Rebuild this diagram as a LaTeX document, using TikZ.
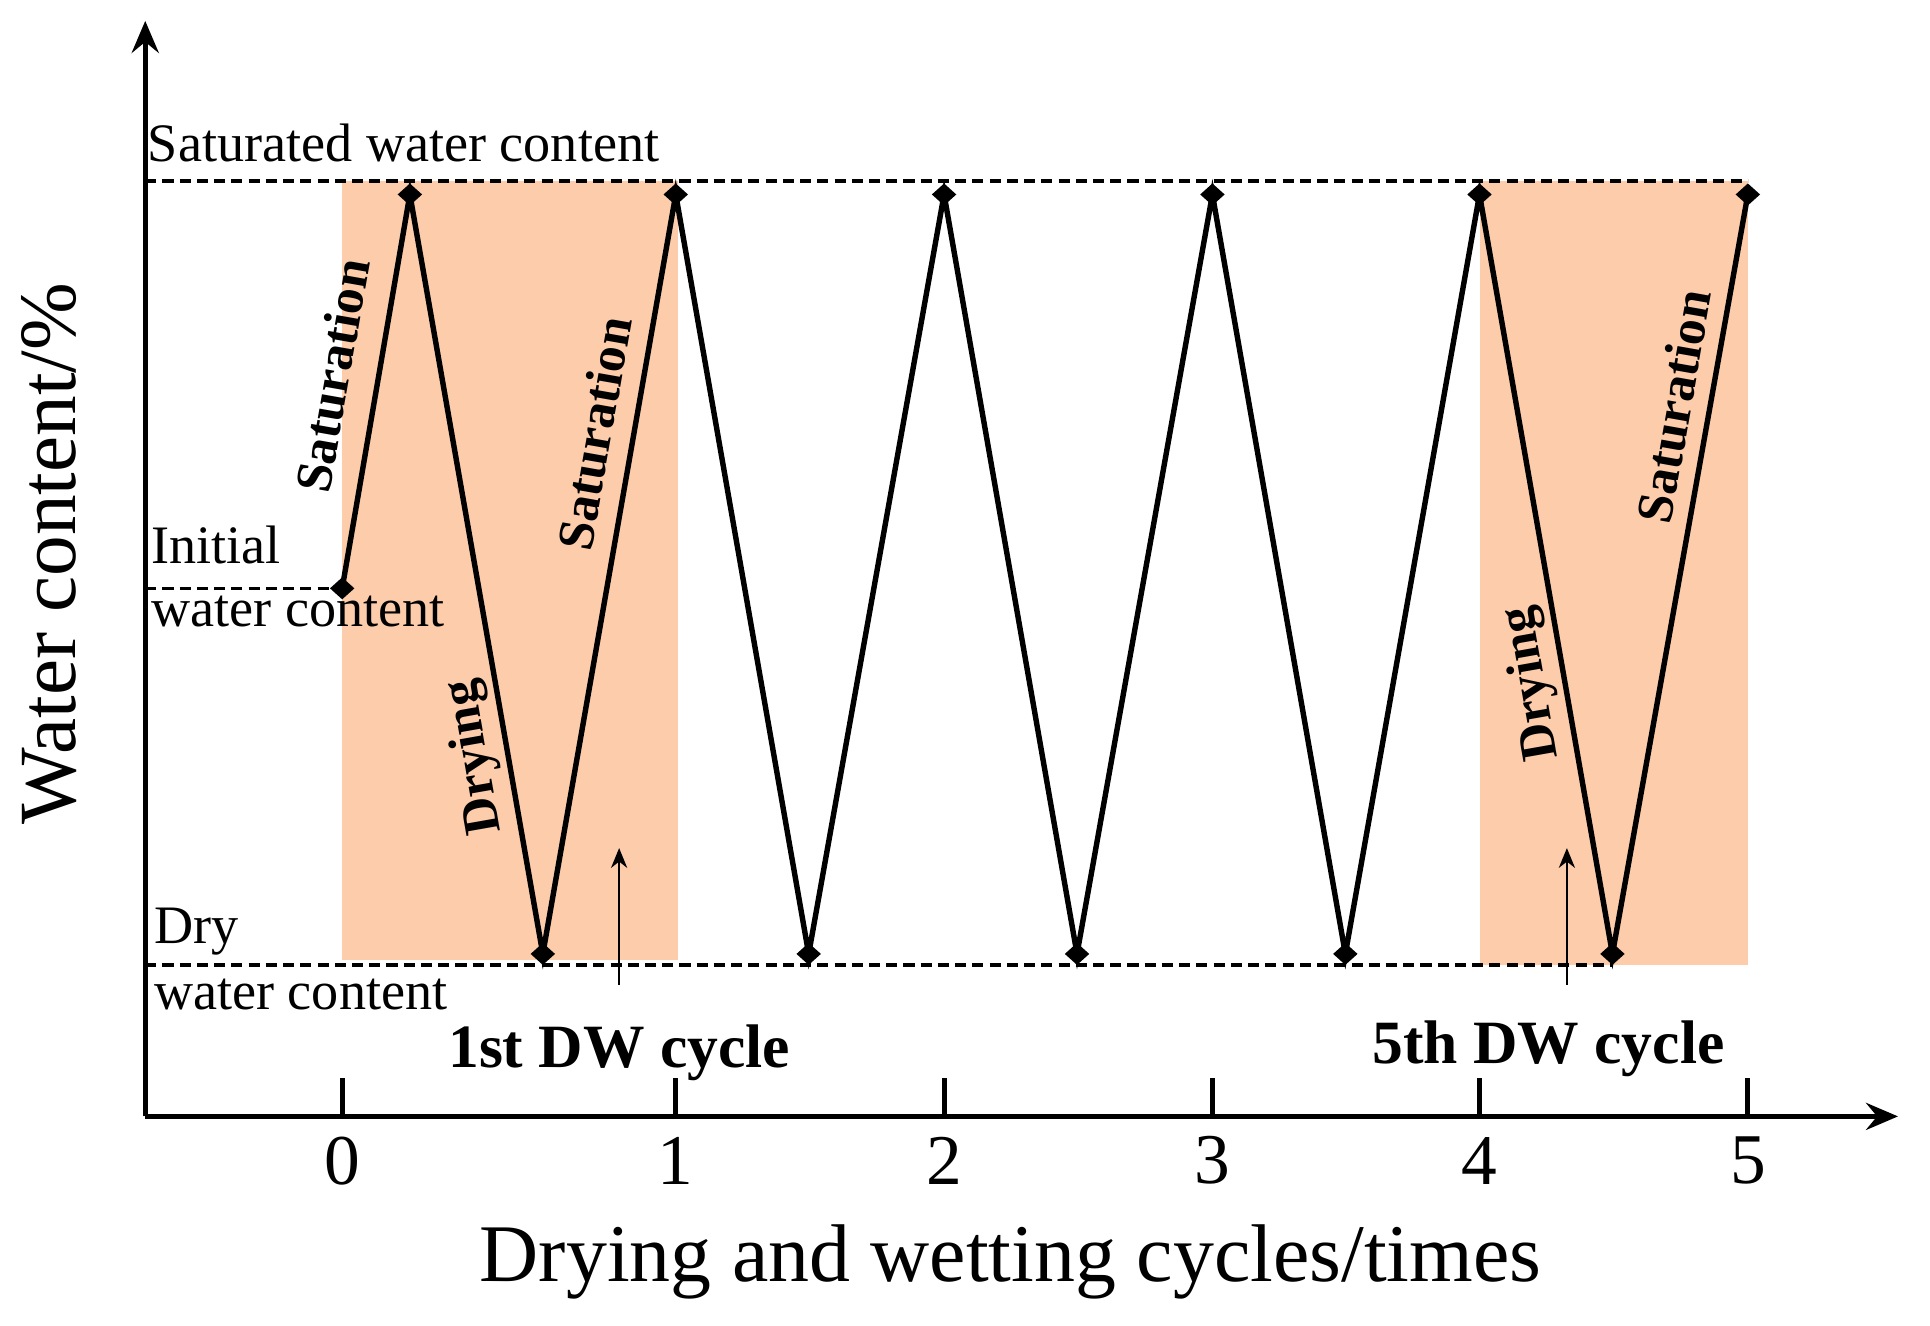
\documentclass[tikz,border=0pt]{standalone}
\usepackage{fontspec}
\setmainfont{Liberation Serif}
\usetikzlibrary{arrows.meta,shapes.geometric}
\definecolor{band}{RGB}{252,204,171}
\newcommand{\fs}[1]{\fontsize{#1}{#1}\selectfont}
\begin{document}
\begin{tikzpicture}[x=1pt,y=1pt,
  axisline/.style={line width=4pt,-{Stealth[length=26pt,width=22pt,inset=9pt]}},
  guide/.style={line width=2.6pt,dash pattern=on 9pt off 5pt},
  zig/.style={line width=4.4pt,line join=miter},
  dmark/.style={diamond,fill=black,inner sep=0pt,minimum width=20pt,minimum height=18pt},
  small/.style={font=\fs{44},inner sep=0pt,anchor=west},
  rot/.style={font=\fs{42}\bfseries,inner sep=0pt},
  ticklab/.style={font=\fs{58},inner sep=0pt},
  cyc/.style={font=\fs{50}\bfseries,inner sep=0pt},
  thinarrow/.style={line width=2.2pt,-{Stealth[length=16pt,width=13pt,inset=5pt]}}]
\useasboundingbox (0,0) rectangle (1568,1077);
% bands
\fill[band] (278,297) rectangle (551,930);
\fill[band] (1202,293) rectangle (1420,930);
% axes
\coordinate (o) at (118,170);
\coordinate (ytip) at (118,1060);
\coordinate (xtip) at (1542,170);
\draw[axisline] (o) -- (ytip);
\draw[axisline] (o) -- (xtip);
% ticks and labels
\foreach \n/\x in {0/278,1/549,2/767,3/985,4/1202,5/1420}{
  \coordinate (t\n) at (\x,170);
  \coordinate (tt\n) at (\x,201);
  \draw[line width=4pt] (t\n) -- (tt\n);
  \node[ticklab] (tl\n) at (\x,134) {\n};
}
% guide lines
\coordinate (s0) at (118,930); \coordinate (s1) at (1420,930);
\coordinate (i0) at (118,599);
\coordinate (d0) at (118,293); \coordinate (d1) at (1310,293);
\draw[guide] (s0) -- (s1);
\draw[guide] (d0) -- (d1);
% zigzag points
\coordinate (p0) at (278,599);
\coordinate (p1) at (333,919);
\coordinate (p2) at (441,302);
\coordinate (p3) at (549,919);
\coordinate (p4) at (657,302);
\coordinate (p5) at (767,919);
\coordinate (p6) at (875,302);
\coordinate (p7) at (985,919);
\coordinate (p8) at (1093,302);
\coordinate (p9) at (1202,919);
\coordinate (p10) at (1310,302);
\coordinate (p11) at (1420,919);
\draw[guide] (i0) -- (p0);
\draw[zig] (p0) -- (p1) -- (p2) -- (p3) -- (p4) -- (p5) -- (p6) -- (p7) -- (p8) -- (p9) -- (p10) -- (p11);
\foreach \i in {0,...,11}{ \node[dmark] (m\i) at (p\i) {}; }
% side labels
\node[small] (lsat) at (120,961) {Saturated water content};
\node[small] (lini) at (123,634) {Initial};
\node[small] (lini2) at (123,580) {water content};
\node[small] (ldry) at (125,320) {Dry};
\node[small] (ldry2) at (125,269) {water content};
% rotated labels
\node[rot,rotate=80] (r1) at (270,772) {Saturation};
\node[rot,rotate=100] (r2) at (386,462) {Drying};
\node[rot,rotate=80] (r3) at (483,725) {Saturation};
\node[rot,rotate=100] (r4) at (1245,522) {Drying};
\node[rot,rotate=80] (r5) at (1360,747) {Saturation};
% cycle arrows
\coordinate (a0) at (503,277); \coordinate (a1) at (503,388);
\coordinate (b0) at (1273,277); \coordinate (b1) at (1273,388);
\draw[thinarrow] (a0) -- (a1);
\draw[thinarrow] (b0) -- (b1);
\node[cyc] (c1) at (503,222) {1st DW cycle};
\node[cyc] (c5) at (1258,225) {5th DW cycle};
% axis titles
\node[font=\fs{66.5},inner sep=0pt] (xt) at (821,52) {Drying and wetting cycles/times};
\node[font=\fs{66},inner sep=0pt,rotate=90] (yt) at (40,627) {Water content/\%};
\end{tikzpicture}
\end{document}
